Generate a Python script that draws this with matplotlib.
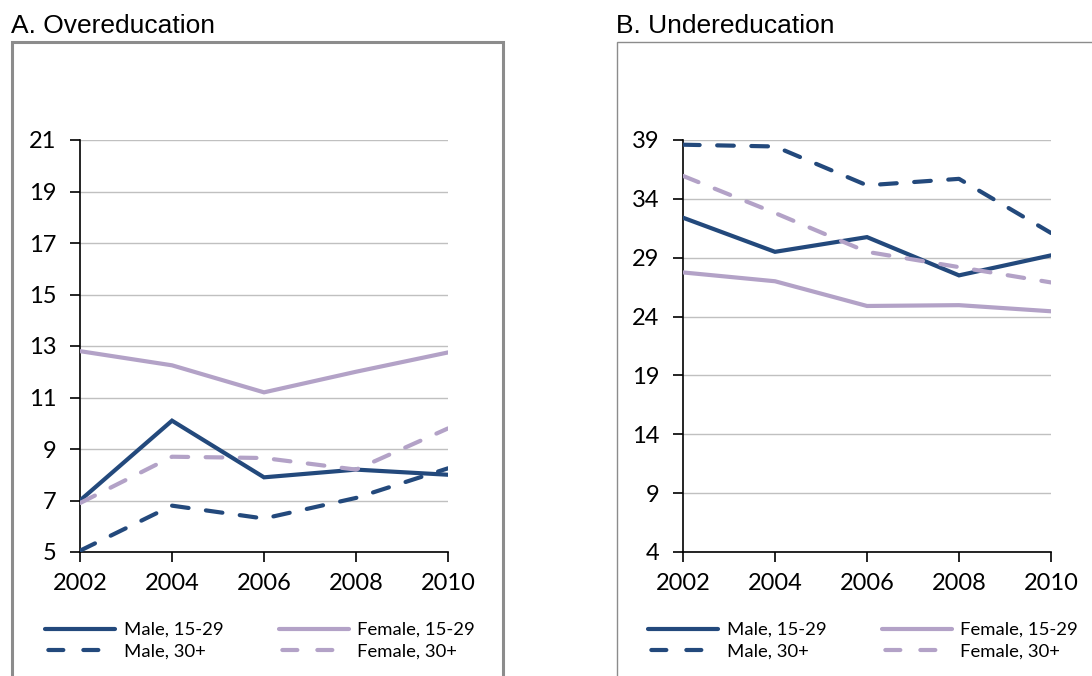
import matplotlib
matplotlib.use("Agg")
import matplotlib.pyplot as plt
from matplotlib.lines import Line2D
from matplotlib.patches import Rectangle

# Datos
years = [2002, 2004, 2006, 2008, 2010]

over_male_young = [7.0, 10.1, 7.9, 8.2, 8.0]
over_female_young = [12.8, 12.25, 11.2, 12.0, 12.75]
over_male_old = [5.05, 6.8, 6.3, 7.1, 8.25]
over_female_old = [6.9, 8.7, 8.65, 8.2, 9.8]

under_male_young = [32.4, 29.5, 30.75, 27.5, 29.2]
under_female_young = [27.75, 27.0, 24.9, 24.97, 24.45]
under_male_old = [38.6, 38.45, 35.15, 35.7, 31.1]
under_female_old = [35.95, 32.8, 29.5, 28.2, 26.9]

series_labels = ["Male, 15-29", "Male, 30+", "Female, 15-29", "Female, 30+"]

over_ticks = [5, 7, 9, 11, 13, 15, 17, 19, 21]
under_ticks = [4, 9, 14, 19, 24, 29, 34, 39]

NAVY = "#23497c"
LAV = "#b3a2c7"
GRID = "#c0c0c0"
BOX = "#8c8c8c"
TICK_FONT = "Lato"
DASH = (0, (4.0, 4.2))
DASH_LEG = (7.6, (3.6, 4.8))  # patrón de la leyenda: dos trazos enteros

W, H = 1092, 676
fig = plt.figure(figsize=(W / 100, H / 100), dpi=100)


def fx(px):
    return px / W


def fy(py):
    return 1 - py / H


# Marcos de cada panel
fig.patches.append(Rectangle((fx(12), fy(700)), fx(503 - 12), fy(42) - fy(700),
                             transform=fig.transFigure, fill=False,
                             edgecolor=BOX, lw=2.2))
fig.patches.append(Rectangle((fx(617), fy(700)), fx(1200 - 617), fy(42) - fy(700),
                             transform=fig.transFigure, fill=False,
                             edgecolor=BOX, lw=1.0))

fig.text(fx(11), fy(26), "A. Overeducation", fontsize=19,
         family="Liberation Sans", va="center", ha="left")
fig.text(fx(616), fy(26), "B. Undereducation", fontsize=19,
         family="Liberation Sans", va="center", ha="left")

styles = [
    dict(color=NAVY, dashed=False),
    dict(color=NAVY, dashed=True),
    dict(color=LAV, dashed=False),
    dict(color=LAV, dashed=True),
]


def draw_panel(left_px, series, ticks):
    ax = fig.add_axes([fx(left_px), fy(552), fx(368), fy(140) - fy(552)])
    for vals, st, lab in zip(series, styles, series_labels):
        ax.plot(years, vals, color=st["color"],
                linestyle=DASH if st["dashed"] else "-", lw=3.0,
                label=lab, solid_capstyle="round", dash_capstyle="round",
                solid_joinstyle="miter", zorder=3)

    ax.set_xlim(years[0], years[-1])
    ax.set_ylim(ticks[0], ticks[-1])
    ax.set_xticks(years)
    ax.set_yticks(ticks)
    ax.yaxis.grid(True, color=GRID, lw=1.0)
    ax.set_axisbelow(True)
    for s in ["top", "right"]:
        ax.spines[s].set_visible(False)
    for s in ["left", "bottom"]:
        ax.spines[s].set_color("black")
        ax.spines[s].set_linewidth(1.2)
    ax.tick_params(axis="both", direction="out", length=7, width=1.2,
                   colors="black")
    ax.tick_params(axis="y", pad=10)
    ax.tick_params(axis="x", pad=8)
    for lbl in ax.get_yticklabels() + ax.get_xticklabels():
        lbl.set_family(TICK_FONT)
        lbl.set_fontsize(17)
    ax.patch.set_alpha(0)
    return ax


ax_a = draw_panel(80, [over_male_young, over_male_old,
                       over_female_young, over_female_old], over_ticks)
ax_b = draw_panel(683, [under_male_young, under_male_old,
                        under_female_young, under_female_old], under_ticks)

# Manejadores de leyenda
leg_handles = [Line2D([], [], color=st["color"], lw=3.0,
                      linestyle=DASH_LEG if st["dashed"] else "-",
                      solid_capstyle="round", dash_capstyle="round")
               for st in styles]

for x0 in [45, 648]:
    fig.legend(handles=leg_handles, labels=series_labels, ncol=2,
               loc="upper left", bbox_to_anchor=(fx(x0), fy(622)),
               frameon=False, handlelength=3.8, handletextpad=0.45,
               columnspacing=3.0, labelspacing=0.32, borderpad=0,
               borderaxespad=0,
               prop={"family": TICK_FONT, "size": 13.3})

fig.savefig("out.png", dpi=100, facecolor="white")
